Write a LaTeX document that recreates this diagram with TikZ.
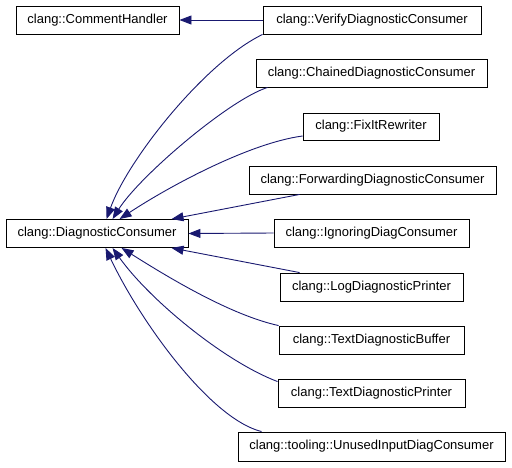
\documentclass[tikz,border=0pt]{standalone}
\usepackage{fontspec}
\setmainfont{Liberation Sans}
\usetikzlibrary{arrows.meta,calc}
\definecolor{edgeblue}{HTML}{191970}
\begin{document}
\begin{tikzpicture}[x=1pt,y=-1pt,
  cls/.style={draw=black,line width=0.9pt,fill=white,inner sep=0pt,
    font=\fontsize{13}{15}\selectfont,minimum height=28pt},
  edge/.style={draw=edgeblue,line width=0.9pt,
    -{Triangle[length=12pt,width=9pt]}}]
\useasboundingbox (0,0) rectangle (512,467);
\node[cls,minimum width=163pt] (ch) at (97.5,20) {clang::CommentHandler};
\node[cls,minimum width=182pt] (dc) at (97,233.5) {clang::DiagnosticConsumer};
\node[cls,minimum width=218pt] (verify) at (372,20) {clang::VerifyDiagnosticConsumer};
\node[cls,minimum width=231pt] (chained) at (371.5,73) {clang::ChainedDiagnosticConsumer};
\node[cls,minimum width=136pt,minimum height=27pt] (fixit) at (371,126.5) {clang::FixItRewriter};
\node[cls,minimum width=247pt] (fwd) at (372.5,180) {clang::ForwardingDiagnosticConsumer};
\node[cls,minimum width=195pt] (ign) at (371.5,233) {clang::IgnoringDiagConsumer};
\node[cls,minimum width=183pt] (log) at (371.5,287) {clang::LogDiagnosticPrinter};
\node[cls,minimum width=185pt] (tbuf) at (371.5,340) {clang::TextDiagnosticBuffer};
\node[cls,minimum width=187pt] (tprn) at (371.5,393) {clang::TextDiagnosticPrinter};
\node[cls,minimum width=267pt,minimum height=29pt] (unused) at (371.5,446.5) {clang::tooling::UnusedInputDiagConsumer};

\draw[edge] (verify.west) -- (ch.east);
\draw[edge] (verify.south west) .. controls +(-58,28) and +(21,-59) .. ($(dc.north west)+(101,0)$);
\draw[edge] ($(chained.south west)+(12,0)$) .. controls +(-38,12) and +(27,-43) .. ($(dc.north west)+(107,0)$);
\draw[edge] ($(fixit.west)+(0,9.5)$) .. controls +(-53,7) and +(50,-33) .. ($(dc.north west)+(114,0)$);
\draw[edge] ($(fwd.south west)+(51,0)$) -- ($(dc.north west)+(166,0)$);
\draw[edge] (ign.west) -- (dc.east);
\draw[edge] ($(log.north west)+(20,0)$) -- ($(dc.south west)+(166,0)$);
\draw[edge] (tbuf.north west) .. controls +(-50,-11) and +(43,27) .. ($(dc.south west)+(116,0)$);
\draw[edge] ($(tprn.north west)+(0,3)$) .. controls +(-53,-20) and +(37,52) .. ($(dc.south west)+(107,0)$);
\draw[edge] ($(unused.north west)+(24,0)$) .. controls +(-52,-13) and +(34,72) .. ($(dc.south west)+(100,0)$);
\end{tikzpicture}
\end{document}
